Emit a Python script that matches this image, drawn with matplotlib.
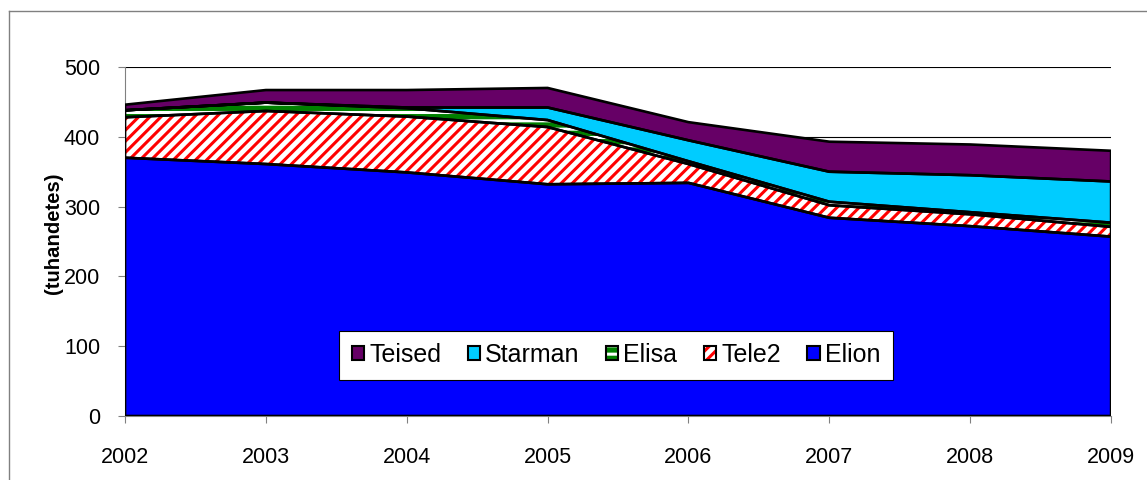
import matplotlib
matplotlib.use("Agg")
import numpy as np
import matplotlib.pyplot as plt
from matplotlib.patches import Patch
from matplotlib.lines import Line2D
from matplotlib.legend_handler import HandlerTuple

plt.rcParams['font.family'] = ['Liberation Sans', 'DejaVu Sans']
plt.rcParams['hatch.linewidth'] = 2.2

# data (tuhandetes)
years = [2002, 2003, 2004, 2005, 2006, 2007, 2008, 2009]
elion = [370, 361, 349, 332, 334, 284, 272, 257]
tele2 = [58, 76, 80, 82, 27, 18, 17, 14]
elisa = [10, 12, 12, 10, 4, 5, 3, 6]
starman = [0, 0, 1, 18, 30, 43, 53, 59]
teised = [8, 18, 25, 28, 26, 43, 44, 44]

names = ['Elion', 'Tele2', 'Elisa', 'Starman', 'Teised']
series = [elion, tele2, elisa, starman, teised]
# facecolor, hatch, hatch colour
styles = {
    'Elion': ('#0000FF', None, None),
    'Tele2': ('white', '///', '#FF0000'),
    'Elisa': ('#008000', '--', 'white'),
    'Starman': ('#00CCFF', None, None),
    'Teised': ('#660066', None, None),
}

fig = plt.figure(figsize=(11.47, 4.8), dpi=100)
ax = fig.add_axes([0.109, 0.1333, 0.8597, 0.7271])

x = np.array(years)
bottom = np.zeros(len(years))
for name, vals in zip(names, series):
    top = bottom + np.array(vals)
    fc, hatch, hc = styles[name]
    if hatch:
        ax.fill_between(x, bottom, top, facecolor=fc, edgecolor=hc,
                        hatch=hatch, linewidth=0, zorder=2)
    else:
        ax.fill_between(x, bottom, top, facecolor=fc, linewidth=0, zorder=2)
    ax.fill_between(x, bottom, top, facecolor='none', edgecolor='black',
                    linewidth=1.9, zorder=3)
    bottom = top

ax.set_xlim(2002, 2009)
ax.set_ylim(0, 500)
ax.set_xticks(years)
ax.set_yticks([0, 100, 200, 300, 400, 500])
ax.yaxis.grid(True, color='black', linewidth=0.8, zorder=0)
ax.set_axisbelow(True)
for s in ['top', 'right']:
    ax.spines[s].set_visible(False)
for s in ['left', 'bottom']:
    ax.spines[s].set_color('#808080')
ax.tick_params(axis='y', length=5, color='#808080', pad=13, labelsize=15.5)
ax.tick_params(axis='x', length=5, color='#808080', pad=17, labelsize=15.5)

fig.text(53 / 1147, 1 - 233 / 480, '(tuhandetes)', rotation=90,
         fontsize=14.6, fontweight='bold', ha='center', va='center')

# legend: hatch colour differs from the black box edge, so stack two patches
handles = []
for name in ['Teised', 'Starman', 'Elisa', 'Tele2', 'Elion']:
    fc, hatch, hc = styles[name]
    inner = Patch(facecolor=fc, edgecolor=hc if hc else fc, hatch=hatch, linewidth=0)
    outer = Patch(facecolor='none', edgecolor='black', linewidth=1.5)
    handles.append((inner, outer))
leg = ax.legend(handles, ['Teised', 'Starman', 'Elisa', 'Tele2', 'Elion'],
                handler_map={tuple: HandlerTuple(ndivide=1)},
                loc='center', bbox_to_anchor=(0.537, 0.26), bbox_transform=fig.transFigure,
                ncol=5, fontsize=18, frameon=True, fancybox=False, framealpha=1,
                edgecolor='black', handlelength=0.5, handleheight=0.5,
                handletextpad=0.2, columnspacing=1.05, borderpad=0.5)
leg.get_frame().set_linewidth(0.8)
leg.set_zorder(5)

# outer chart frame (left and top edges visible)
fig.add_artist(Line2D([9 / 1147, 9 / 1147], [0, 1 - 11 / 480], color='#808080', lw=1))
fig.add_artist(Line2D([9 / 1147, 1], [1 - 11 / 480, 1 - 11 / 480], color='#808080', lw=1))

fig.savefig('out.png', dpi=100)
